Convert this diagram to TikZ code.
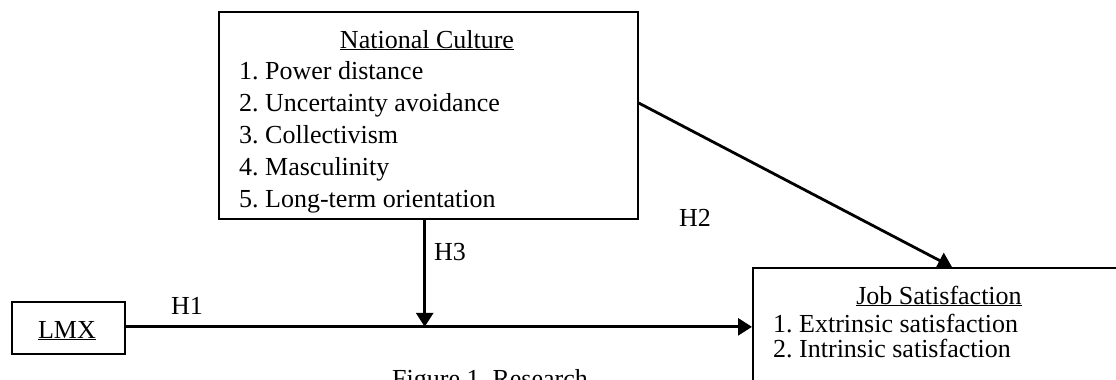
\documentclass[tikz,border=0pt]{standalone}
\usepackage{fontspec}
\setmainfont{Liberation Serif}
\usetikzlibrary{arrows.meta,calc}
\frenchspacing
\begin{document}
\begin{tikzpicture}[x=1pt,y=1pt,
  font=\fontsize{26}{31}\selectfont\frenchspacing,
  box/.style={draw=black,line width=1.7pt,rectangle,inner sep=0pt},
  txt/.style={inner sep=0pt},
  conn/.style={draw=black,line width=2.8pt},
  arr/.style={conn,-{Triangle[length=14pt,width=17pt]}}]
\clip (0,0) rectangle (1116,-380);
\fill[white] (0,0) rectangle (1116,-380);
% boxes
\node[box,anchor=north west,minimum width=419pt,minimum height=207pt] (nc) at (218,-11) {};
\node[box,anchor=north west,minimum width=113pt,minimum height=52pt] (lmx) at (11,-301) {};
\node[box,anchor=north west,minimum width=420pt,minimum height=160pt] (job) at (752,-267) {};
% National culture text
\node[txt,anchor=base] (nct) at (427,-48) {\underline{National Culture}};
\node[txt,anchor=base west] (nc1) at (239,-79) {1. Power distance};
\node[txt,anchor=base west] (nc2) at (239,-111) {2. Uncertainty avoidance};
\node[txt,anchor=base west] (nc3) at (239,-143) {3. Collectivism};
\node[txt,anchor=base west] (nc4) at (239,-175) {4. Masculinity};
\node[txt,anchor=base west] (nc5) at (239,-207) {5. Long-term orientation};
% LMX text
\node[txt,anchor=base] (lmxt) at (67,-338) {\underline{LMX}};
% Job satisfaction text
\node[txt,anchor=base] (jobt) at (939,-304) {\underline{Job Satisfaction}};
\node[txt,anchor=base west] (job1) at (773,-332) {1. Extrinsic satisfaction};
\node[txt,anchor=base west] (job2) at (773,-357) {2. Intrinsic satisfaction};
% labels
\node[txt,anchor=base] (h1) at (187,-314) {H1};
\node[txt,anchor=base] (h2) at (695,-226) {H2};
\node[txt,anchor=base] (h3) at (450,-260) {H3};
\node[txt,anchor=base west] (cap) at (392,-387) {Figure 1. Research};
% connectors
\coordinate (m) at ($(lmx.east)+(299,1)$);
\coordinate (ncb) at (nc.south -| m);
\coordinate (ncr) at ($(nc.north east)+(0,-92)$);
\coordinate (jobn) at ($(job.north west)+(200,0)$);
\draw[arr] (lmx.east |- m) -- (job.west |- m);
\draw[arr] (ncb) -- (m);
\draw[arr] (ncr) -- (jobn);
\end{tikzpicture}
\end{document}
